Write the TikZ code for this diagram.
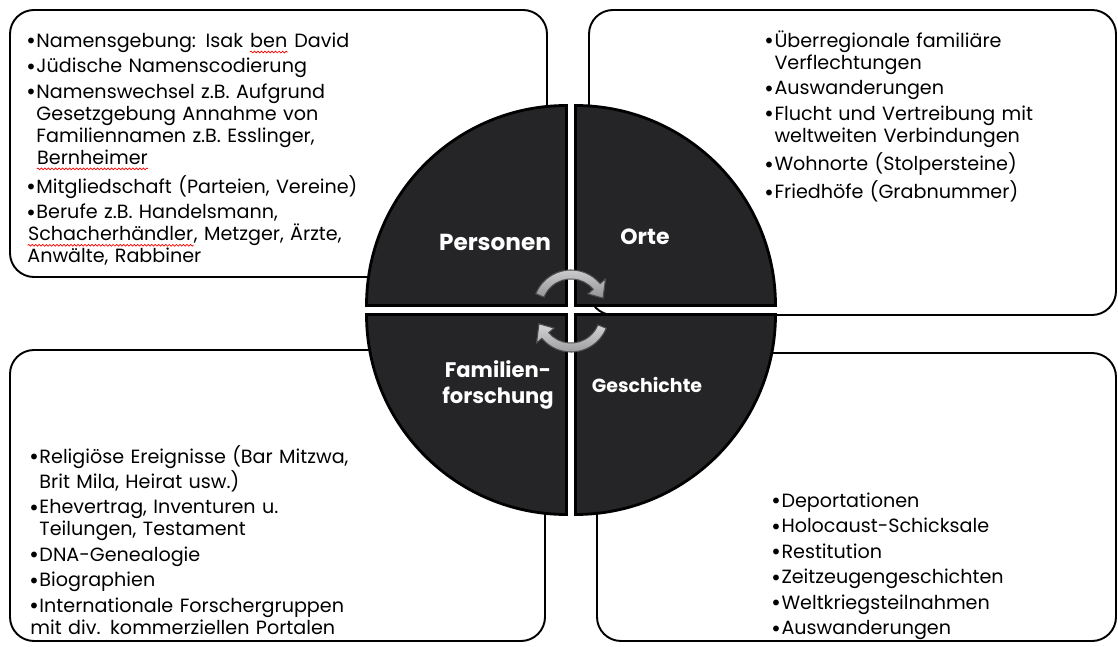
\documentclass[tikz,border=0pt]{standalone}
\usepackage{fontspec}
\setmainfont{Poppins}
\usetikzlibrary{decorations.pathmorphing}
\definecolor{sektorgrau}{RGB}{37,37,39}
\definecolor{pfeilgrau}{RGB}{184,184,188}
\newcommand\spellwave[1]{\tikz[baseline=(fehler.base)]{\node[inner sep=0pt] (fehler) {#1};
  \draw[red,line width=0.4pt,decorate,decoration={snake,amplitude=0.5pt,segment length=2pt}]
    ([yshift=-2.6pt]fehler.base west) -- ([yshift=-2.6pt]fehler.base east);}}
\newcommand\punkt[1]{\par\setlength\parskip{2pt}\hangindent=5.2pt\noindent\makebox[5.2pt][l]{\raisebox{1.5pt}{$\scriptstyle\bullet$}}#1}
\tikzset{
  kasten/.style={draw,line width=1.1pt,rounded corners=0.48cm,fill=white},
  liste/.style={anchor=base west,inner sep=0pt,text width=9cm,align=left,font=\fontsize{10.9}{12.5}\selectfont},
  sektor/.style={fill=sektorgrau,draw=black,line width=1.6pt},
  titel/.style={text=white,inner sep=0pt,align=center,font=\bfseries\fontsize{12.5}{14.5}\selectfont},
  pfeil/.style={top color=pfeilgrau!60!white,bottom color=pfeilgrau!80!black,draw=black!70,line width=0.6pt}
}
\begin{document}
\begin{tikzpicture}[x=0.02cm,y=0.02cm]
\useasboundingbox (0,0) rectangle (1118,646);
% Kaesten
\draw[kasten] (10,636) rectangle (547,369);
\draw[kasten] (589,636) rectangle (1116,331);
\draw[kasten] (10,296) rectangle (545,5);
\draw[kasten] (597,293) rectangle (1116,5);
% Kreis aus vier Sektoren
\begin{scope}[shift={(571,336)}]
  \foreach \a/\dx/\dy in {0/4.5/4.5,90/-4.5/4.5,180/-4.5/-4.5,270/4.5/-4.5}
    \filldraw[sektor] (\dx,\dy) -- ++(\a:200) arc[start angle=\a,end angle=\a+90,radius=200] -- cycle;
\end{scope}
% Pfeile in der Mitte
\foreach \cy/\rot in {338/0,332/180}
  \shadedraw[pfeil,shift={(571,\cy)},rotate=\rot] (158:38) arc[start angle=158,end angle=40,radius=38]
    -- (40:45) -- (17:33.5) -- (40:22) -- (40:29) arc[start angle=40,end angle=158,radius=29] -- cycle;
\node[titel,font=\bfseries\fontsize{13.2}{15}\selectfont] (personen) at (495,404) {Personen};
\node[titel] (orte) at (645,409) {Orte};
\node[titel,font=\bfseries\fontsize{12}{14.5}\selectfont] (familie) at (498,261) {Familien-\\forschung};
\node[titel,font=\bfseries\fontsize{10.8}{13}\selectfont] (geschichte) at (647,261) {Geschichte};
% Listen
\node[liste] (listePersonen) at (27,624) {%
  \punkt{Namensgebung: Isak \spellwave{ben} David}
  \punkt{Jüdische Namenscodierung}
  \punkt{Namenswechsel z.B. Aufgrund\newline Gesetzgebung Annahme von\newline Familiennamen z.B. Esslinger,\newline \spellwave{Bernheimer}}
  \punkt{Mitgliedschaft (Parteien, Vereine)}
  \punkt{Berufe z.B. Handelsmann,\newline \spellwave{Schacherhändler}, Metzger, Ärzte,\newline Anwälte, Rabbiner}};
\node[liste] (listeOrte) at (765,624) {%
  \punkt{Überregionale familiäre\newline Verflechtungen}
  \punkt{Auswanderungen}
  \punkt{Flucht und Vertreibung mit\newline weltweiten Verbindungen}
  \punkt{Wohnorte (Stolpersteine)}
  \punkt{Friedhöfe (Grabnummer)}};
\node[liste] (listeFamilie) at (30,208) {%
  \punkt{Religiöse Ereignisse (Bar Mitzwa,\newline Brit Mila, Heirat usw.)}
  \punkt{Ehevertrag, Inventuren u.\newline Teilungen, Testament}
  \punkt{DNA-Genealogie}
  \punkt{Biographien}
  \punkt{Internationale Forschergruppen\newline mit div. kommerziellen Portalen}};
\node[liste] (listeGeschichte) at (772,164) {%
  \punkt{Deportationen}
  \punkt{Holocaust-Schicksale}
  \punkt{Restitution}
  \punkt{Zeitzeugengeschichten}
  \punkt{Weltkriegsteilnahmen}
  \punkt{Auswanderungen}};
\end{tikzpicture}
\end{document}
